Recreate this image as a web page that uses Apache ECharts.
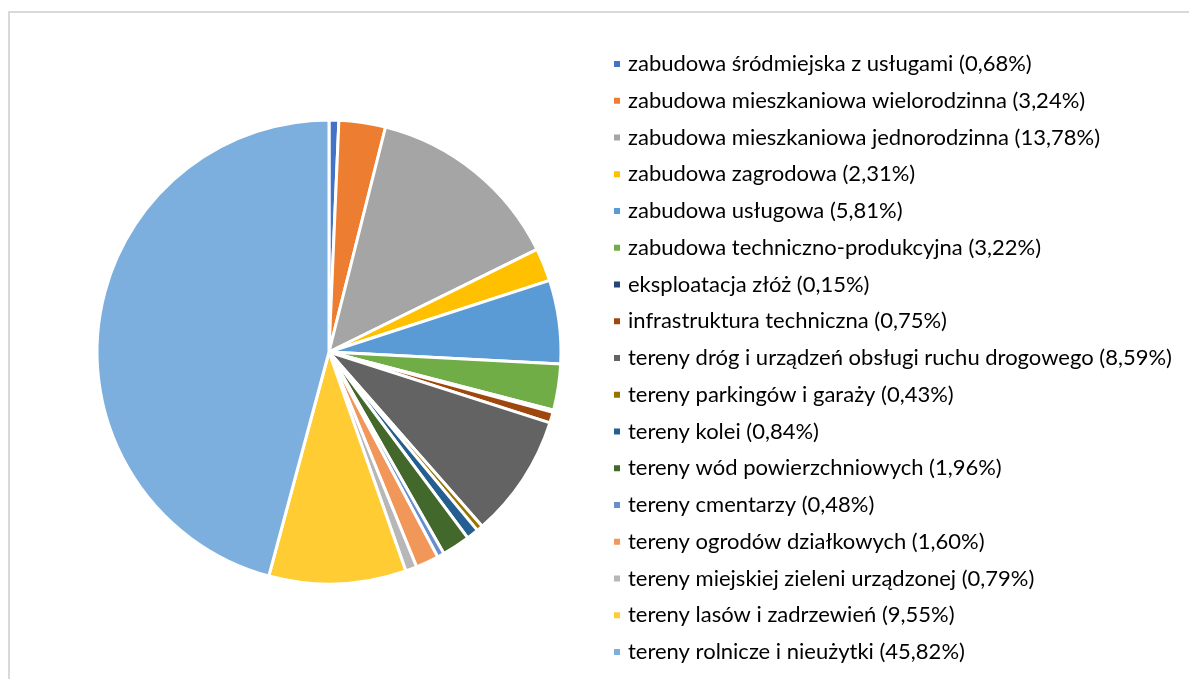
<!DOCTYPE html>
<html>
<head>
<meta charset="utf-8">
<script src="https://cdn.jsdelivr.net/npm/echarts@6/dist/echarts.min.js"></script>
<style>
html,body{margin:0;padding:0;background:#fff;}
#frame{position:absolute;left:8px;top:11px;width:1300px;height:800px;border-top:2px solid #d9d9d9;border-left:2px solid #d9d9d9;}
#chart{position:absolute;left:0;top:0;width:1189px;height:679px;}
</style>
</head>
<body>
<div id="frame"></div>
<div id="chart"></div>
<script>
const categories = [
  "zabudowa śródmiejska z usługami",
  "zabudowa mieszkaniowa wielorodzinna",
  "zabudowa mieszkaniowa jednorodzinna",
  "zabudowa zagrodowa",
  "zabudowa usługowa",
  "zabudowa techniczno-produkcyjna",
  "eksploatacja złóż",
  "infrastruktura techniczna",
  "tereny dróg i urządzeń obsługi ruchu drogowego",
  "tereny parkingów i garaży",
  "tereny kolei",
  "tereny wód powierzchniowych",
  "tereny cmentarzy",
  "tereny ogrodów działkowych",
  "tereny miejskiej zieleni urządzonej",
  "tereny lasów i zadrzewień",
  "tereny rolnicze i nieużytki"
];
const percentages = [0.68, 3.24, 13.78, 2.31, 5.81, 3.22, 0.15, 0.75, 8.59, 0.43, 0.84, 1.96, 0.48, 1.60, 0.79, 9.55, 45.82];
const colors = ["#4472C4","#ED7D31","#A5A5A5","#FFC000","#5B9BD5","#70AD47","#264478","#9E480E","#636363","#997300","#255E91","#43682B","#698ED0","#F1975A","#B7B7B7","#FFCD33","#7CAFDD"];

const labelOf = {};
categories.forEach((c, i) => { labelOf[c] = c + " (" + percentages[i].toFixed(2).replace(".", ",") + "%)"; });

const chart = echarts.init(document.getElementById('chart'));
chart.setOption({
  animation: false,
  color: colors,
  legend: {
    orient: 'vertical',
    left: 607,
    top: 48,
    itemWidth: 8,
    itemHeight: 8,
    itemGap: 14.75,
    icon: 'rect',
    formatter: n => labelOf[n],
    textStyle: { fontFamily: "Lato, 'Open Sans', sans-serif", fontSize: 22, color: '#000', lineHeight: 22, padding: [0,0,0,2] },
    data: categories
  },
  series: [{
    type: 'pie',
    center: [329, 352],
    radius: 232,
    startAngle: 90,
    clockwise: true,
    label: { show: false },
    labelLine: { show: false },
    emphasis: { disabled: true },
    itemStyle: { borderColor: '#fff', borderWidth: 3 },
    data: categories.map((c, i) => ({ name: c, value: percentages[i] }))
  }]
});
</script>
</body>
</html>
